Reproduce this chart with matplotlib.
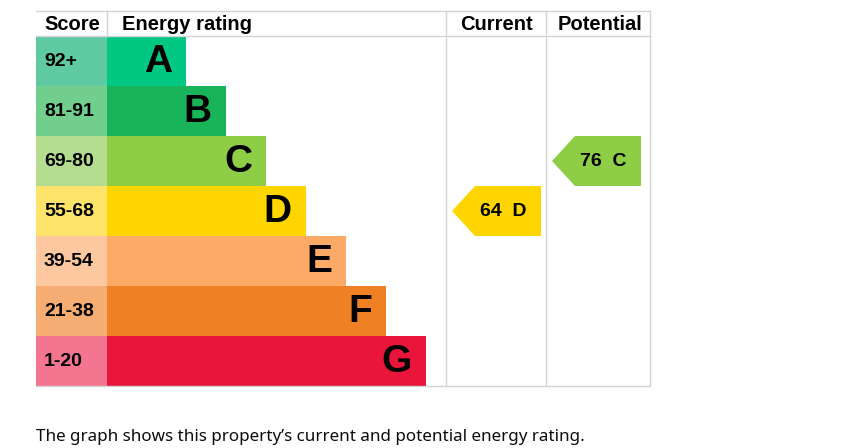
import matplotlib
matplotlib.use("Agg")
import matplotlib.pyplot as plt
from matplotlib.patches import Polygon

# EPC bands, best to worst
bands = ["A", "B", "C", "D", "E", "F", "G"]
score_ranges = ["92+", "81-91", "69-80", "55-68", "39-54", "21-38", "1-20"]
band_floor = [92, 81, 69, 55, 39, 21, 1]
bar_colors = ["#00c781", "#19b459", "#8dce46", "#ffd500", "#fcaa65", "#ef8023", "#e9153b"]
score_colors = ["#5fc9a1", "#72ce8d", "#b5dd8f", "#ffe46c", "#fdc8a0", "#f5ad74", "#f37590"]

current = 64
potential = 76

# layout (pixels)
W, H = 846, 448
left, score_w = 36, 71
top, head_h, row_h = 11, 25, 50
bar_base, bar_step = 79, 40
col_cur, col_pot, col_end = 446, 546, 650
grid = "#d4d4d4"

fig = plt.figure(figsize=(W / 100, H / 100), dpi=100)
ax = fig.add_axes([0, 0, 1, 1])
ax.set_xlim(0, W)
ax.set_ylim(H, 0)
ax.axis("off")

bold = {"family": ["Liberation Sans", "DejaVu Sans"], "weight": "bold"}

def band_of(score):
    for i, f in enumerate(band_floor):
        if score >= f:
            return i
    return len(bands) - 1

y0 = top + head_h
centers = [y0 + row_h * (i + 0.5) for i in range(len(bands))]
widths = [bar_base + bar_step * i for i in range(len(bands))]

ax.barh(centers, [score_w] * len(bands), left=left, height=row_h,
        color=score_colors, linewidth=0)
ax.barh(centers, widths, left=left + score_w, height=row_h,
        color=bar_colors, linewidth=0)

for i in range(len(bands)):
    ax.text(left + 8, centers[i], score_ranges[i], ha="left", va="center",
            fontsize=14, fontdict=bold)
    ax.text(left + score_w + widths[i] - 14, centers[i] + 1, bands[i],
            ha="right", va="center", fontsize=28, fontdict=bold)

# grid lines
y_end = y0 + row_h * len(bands)
ax.plot([left, col_end], [top, top], color=grid, lw=1)
ax.plot([left, col_end], [y0, y0], color=grid, lw=1)
ax.plot([left, col_end], [y_end, y_end], color=grid, lw=1)
ax.plot([left + score_w, left + score_w], [top, y0], color=grid, lw=1)
for x in (col_cur, col_pot, col_end):
    ax.plot([x, x], [top, y_end], color=grid, lw=1)

# headers
hy = top + head_h / 2 + 1.5
ax.text(left + 8, hy, "Score", ha="left", va="center", fontsize=14.5, fontdict=bold)
ax.text(left + score_w + 15, hy, "Energy rating", ha="left", va="center",
        fontsize=14.5, fontdict=bold)
ax.text((col_cur + col_pot) / 2, hy, "Current", ha="center", va="center",
        fontsize=14.5, fontdict=bold)
ax.text((col_pot + col_end) / 2 + 2, hy, "Potential", ha="center", va="center",
        fontsize=14.5, fontdict=bold)

def arrow(col_x, score):
    i = band_of(score)
    yt, yb = y0 + row_h * i, y0 + row_h * (i + 1)
    tip, notch, right = col_x + 6, col_x + 29, col_x + 95
    pts = [(tip, (yt + yb) / 2), (notch, yt), (right, yt), (right, yb), (notch, yb)]
    ax.add_patch(Polygon(pts, closed=True, color=bar_colors[i], linewidth=0))
    ax.text((notch + right) / 2 - 5, (yt + yb) / 2 + 1, f"{score}  {bands[i]}",
            ha="center", va="center", fontsize=14, fontdict=bold)

arrow(col_cur, current)
arrow(col_pot, potential)

ax.text(left, 437, "The graph shows this property\u2019s current and potential energy rating.",
        ha="left", va="center", fontsize=12.25, family=["Noto Sans", "DejaVu Sans"],
        color="#0b0c0c")

fig.savefig("out.png", dpi=100)
